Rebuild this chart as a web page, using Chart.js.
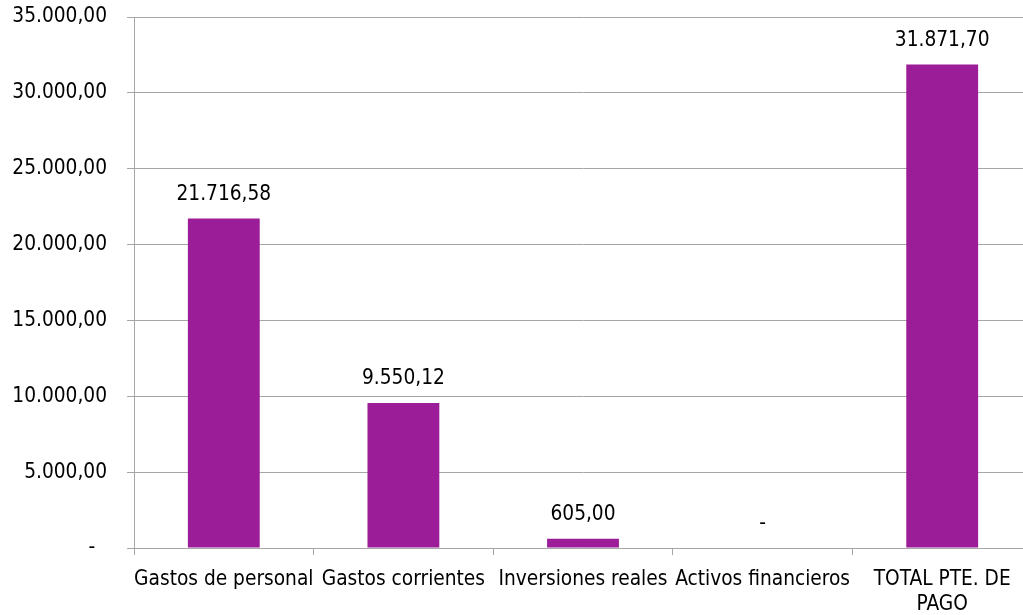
<!DOCTYPE html>
<html>
<head>
<meta charset="utf-8">
<script src="https://cdn.jsdelivr.net/npm/chart.js@4.4.1/dist/chart.umd.min.js"></script>
<style>
  html, body { margin: 0; padding: 0; background: #fff; overflow: hidden; }
  #wrap { width: 1023px; height: 615px; overflow: hidden; }
  #box { width: 1034px; height: 615px; position: relative; }
</style>
</head>
<body>
<div id="wrap"><div id="box"><canvas id="chart"></canvas></div></div>
<script>
const categories = ['Gastos de personal', 'Gastos corrientes', 'Inversiones reales', 'Activos financieros', ['TOTAL PTE. DE', 'PAGO']];
const pendientes = [21716.58, 9550.12, 605.00, 0, 31871.70];
const yTicks = [0, 5000, 10000, 15000, 20000, 25000, 30000, 35000];

const FONT = '"DejaVu Sans Condensed", "DejaVu Sans", sans-serif';
const FSIZE = 20.7;
const GRID = '#a6a6a6';
const BAR = '#9b1d97';

// 31871.7 -> "31.871,70", 0 -> "-"
function fmt(v) {
  if (v === 0) return '-';
  const [ent, dec] = v.toFixed(2).split('.');
  return ent.replace(/\B(?=(\d{3})+(?!\d))/g, '.') + ',' + dec;
}

// value labels above the bars
const valueLabels = {
  id: 'valueLabels',
  afterDatasetsDraw(chart) {
    const ctx = chart.ctx;
    const meta = chart.getDatasetMeta(0);
    ctx.save();
    ctx.font = FSIZE + 'px ' + FONT;
    ctx.fillStyle = '#000';
    ctx.textAlign = 'center';
    ctx.textBaseline = 'middle';
    meta.data.forEach((bar, i) => {
      ctx.fillText(fmt(pendientes[i]), bar.x, bar.y - 24);
    });
    ctx.restore();
  }
};

new Chart(document.getElementById('chart'), {
  type: 'bar',
  data: {
    labels: categories,
    datasets: [{
      data: pendientes,
      backgroundColor: BAR,
      borderWidth: 0,
      barPercentage: 0.4,
      categoryPercentage: 1.0
    }]
  },
  options: {
    responsive: true, maintainAspectRatio: false,
    animation: false,
    layout: { padding: { top: 17, right: 2, left: 0, bottom: 0 } },
    plugins: { legend: { display: false }, tooltip: { enabled: false } },
    scales: {
      x: {
        grid: { drawOnChartArea: false, color: GRID, tickLength: 7, offset: true },
        border: { color: GRID },
        ticks: { color: '#000', font: { family: FONT, size: FSIZE }, padding: 12, maxRotation: 0, autoSkip: false },
        afterFit: s => { s.height = 67; }
      },
      y: {
        min: 0, max: 35000,
        afterBuildTicks: s => { s.ticks = yTicks.map(v => ({ value: v })); },
        grid: { color: GRID, tickLength: 7 },
        border: { color: GRID },
        ticks: {
          color: '#000', font: { family: FONT, size: FSIZE }, padding: 20,
          callback: v => v === 0 ? '-  ' : fmt(v)
        },
        afterFit: s => { s.width = 134; s.paddingTop = 0; s.paddingBottom = 0; }
      }
    }
  },
  plugins: [valueLabels]
});
</script>
</body>
</html>
